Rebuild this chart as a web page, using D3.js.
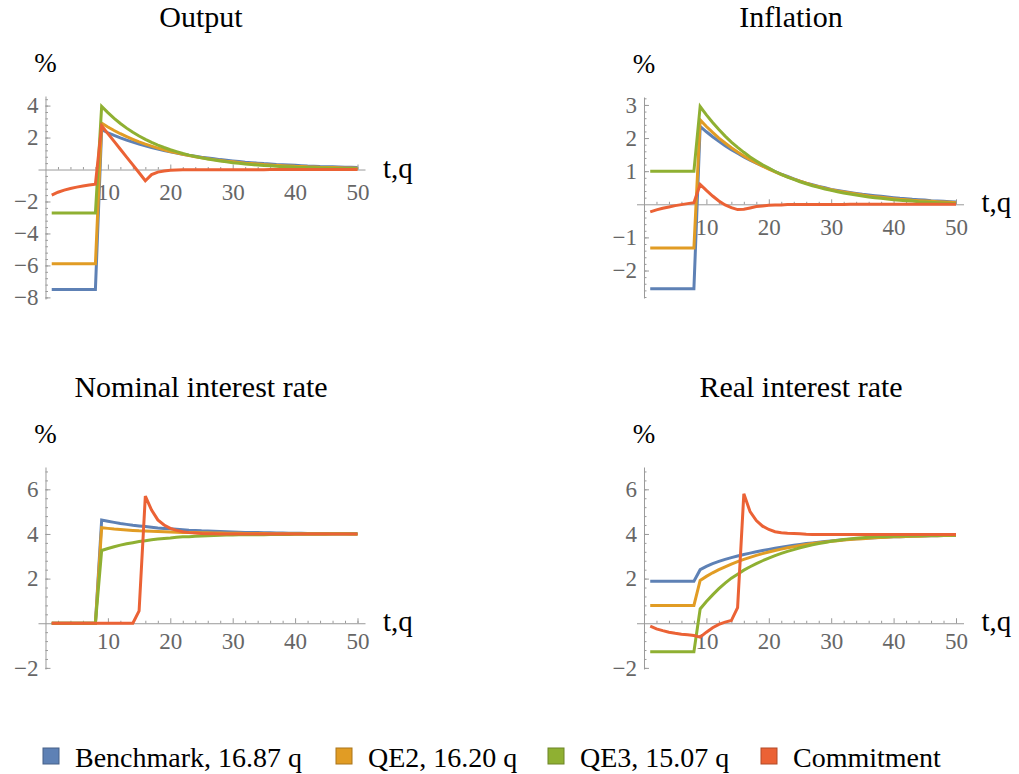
<!DOCTYPE html>
<html><head><meta charset="utf-8">
<script src="https://cdn.jsdelivr.net/npm/d3@7"></script>
<style>
body{margin:0;background:#fff}
text{font-family:"Liberation Serif","DejaVu Serif",serif}
</style>
</head><body>
<svg id="chart" width="1019" height="774"></svg>
<script>
// ---------------- DATA ----------------
const periods = [1,2,3,4,5,6,7,8,9,10,11,12,13,14,15,16,17,18,19,20,21,22,23,24,25,26,27,28,29,30,31,32,33,34,35,36,37,38,39,40,41,42,43,44,45,46,47,48,49,50];

const seriesNames = ["Benchmark, 16.87 q","QE2, 16.20 q","QE3, 15.07 q","Commitment"];
const panelTitles = ["Output","Inflation","Nominal interest rate","Real interest rate"];

// Output
const outputBenchmark = [-7.5,-7.5,-7.5,-7.5,-7.5,-7.5,-7.5,-7.5,2.5,2.3,2.13,1.98,1.84,1.71,1.59,1.48,1.38,1.28,1.19,1.11,1.03,0.96,0.89,0.83,0.77,0.72,0.67,0.62,0.58,0.54,0.5,0.46,0.43,0.4,0.37,0.35,0.32,0.3,0.28,0.26,0.24,0.22,0.21,0.19,0.18,0.17,0.16,0.15,0.14,0.13];
const outputQE2 = [-5.9,-5.9,-5.9,-5.9,-5.9,-5.9,-5.9,-5.9,2.9,2.66,2.44,2.24,2.06,1.89,1.73,1.59,1.46,1.34,1.23,1.13,1.04,0.95,0.87,0.8,0.74,0.68,0.62,0.57,0.52,0.48,0.44,0.4,0.37,0.34,0.31,0.29,0.26,0.24,0.22,0.2,0.19,0.17,0.16,0.14,0.13,0.12,0.11,0.1,0.09,0.08];
const outputQE3 = [-2.72,-2.72,-2.72,-2.72,-2.72,-2.72,-2.72,-2.72,3.95,3.56,3.2,2.88,2.59,2.33,2.1,1.89,1.7,1.53,1.38,1.24,1.12,1.0,0.9,0.81,0.73,0.66,0.59,0.53,0.48,0.43,0.39,0.35,0.31,0.28,0.25,0.23,0.2,0.18,0.17,0.15,0.13,0.12,0.11,0.1,0.09,0.08,0.07,0.06,0.06,0.05];
const outputCommitment = [-1.6,-1.42,-1.29,-1.19,-1.1,-1.03,-0.97,-0.92,2.74,2.25,1.76,1.27,0.78,0.29,-0.2,-0.7,-0.32,-0.16,-0.09,-0.05,-0.03,-0.02,-0.02,-0.01,-0.01,-0.01,-0.01,-0.01,-0.01,-0.01,-0.01,-0.01,-0.01,-0.01,-0.01,0,0,0,0,0,0,0,0,0,0,0,0,0,0,0];

// Inflation
const inflationBenchmark = [-2.55,-2.55,-2.55,-2.55,-2.55,-2.55,-2.55,-2.55,2.35,2.19,2.04,1.9,1.77,1.65,1.54,1.43,1.33,1.24,1.16,1.08,0.99,0.91,0.84,0.77,0.7,0.64,0.59,0.54,0.5,0.45,0.42,0.39,0.36,0.33,0.3,0.28,0.26,0.24,0.22,0.2,0.18,0.17,0.15,0.14,0.13,0.11,0.1,0.09,0.08,0.07];
const inflationQE2 = [-1.32,-1.32,-1.32,-1.32,-1.32,-1.32,-1.32,-1.32,2.55,2.35,2.17,2.0,1.85,1.71,1.58,1.46,1.35,1.25,1.15,1.06,0.98,0.9,0.83,0.76,0.7,0.64,0.58,0.53,0.48,0.44,0.4,0.37,0.34,0.31,0.28,0.25,0.23,0.21,0.19,0.17,0.15,0.14,0.12,0.11,0.1,0.09,0.08,0.07,0.06,0.05];
const inflationQE3 = [1.0,1.0,1.0,1.0,1.0,1.0,1.0,1.0,2.95,2.7,2.47,2.26,2.06,1.88,1.72,1.57,1.43,1.31,1.19,1.09,0.99,0.9,0.82,0.75,0.68,0.62,0.56,0.51,0.46,0.42,0.38,0.34,0.31,0.28,0.25,0.22,0.2,0.18,0.16,0.14,0.12,0.11,0.1,0.08,0.07,0.06,0.05,0.04,0.03,0.02];
const inflationCommitment = [-0.23,-0.17,-0.12,-0.08,-0.04,-0.01,0.02,0.05,0.6,0.42,0.25,0.1,-0.02,-0.1,-0.16,-0.15,-0.11,-0.07,-0.05,-0.03,-0.02,-0.02,-0.01,-0.01,-0.01,-0.01,-0.01,-0.01,-0.01,-0.01,-0.01,-0.01,0,0,0,0,0,0,0,0,0,0,0,0,0,0,0,0,0,0];

// Nominal interest rate
const nominalBenchmark = [0,0,0,0,0,0,0,0,4.62,4.57,4.52,4.47,4.43,4.39,4.36,4.33,4.3,4.27,4.25,4.23,4.21,4.19,4.17,4.16,4.14,4.13,4.12,4.11,4.1,4.09,4.08,4.07,4.07,4.06,4.05,4.05,4.04,4.04,4.03,4.03,4.03,4.02,4.02,4.02,4.02,4.01,4.01,4.01,4.01,4.01];
const nominalQE2 = [0,0,0,0,0,0,0,0,4.28,4.25,4.22,4.2,4.18,4.16,4.14,4.13,4.12,4.11,4.1,4.09,4.08,4.07,4.06,4.06,4.05,4.05,4.04,4.04,4.03,4.03,4.03,4.02,4.02,4.02,4.02,4.01,4.01,4.01,4.01,4.01,4.01,4.01,4.01,4.01,4.01,4.01,4.01,4.01,4.0,4.0];
const nominalQE3 = [0,0,0,0,0,0,0,0,3.26,3.35,3.43,3.5,3.56,3.61,3.66,3.7,3.74,3.77,3.8,3.82,3.85,3.87,3.88,3.9,3.91,3.92,3.93,3.94,3.95,3.95,3.96,3.96,3.97,3.97,3.97,3.98,3.98,3.98,3.98,3.99,3.99,3.99,3.99,3.99,3.99,4.0,4.0,4.0,4.0,4.0];
const nominalCommitment = [0,0,0,0,0,0,0,0,0,0,0,0,0,0,0.55,5.7,5.07,4.63,4.4,4.25,4.16,4.1,4.06,4.04,4.02,4.01,4.01,4.0,4.0,4.0,4.0,4.0,4.0,4.0,4.0,4.0,4.0,4.0,4.0,4.0,4.0,4.0,4.0,4.0,4.0,4.0,4.0,4.0,4.0,4.0];

// Real interest rate
const realBenchmark = [1.88,1.88,1.88,1.88,1.88,1.88,1.88,1.88,2.4,2.55,2.67,2.77,2.86,2.94,3.01,3.08,3.14,3.2,3.26,3.31,3.36,3.41,3.45,3.49,3.53,3.57,3.6,3.63,3.66,3.69,3.72,3.74,3.76,3.78,3.8,3.82,3.83,3.85,3.86,3.87,3.88,3.89,3.9,3.91,3.91,3.92,3.92,3.93,3.93,3.94];
const realQE2 = [0.8,0.8,0.8,0.8,0.8,0.8,0.8,0.8,1.92,2.1,2.26,2.4,2.53,2.65,2.76,2.86,2.95,3.04,3.12,3.19,3.26,3.32,3.38,3.43,3.48,3.53,3.57,3.61,3.64,3.67,3.7,3.73,3.75,3.77,3.79,3.81,3.83,3.84,3.85,3.87,3.88,3.89,3.9,3.9,3.91,3.92,3.92,3.93,3.93,3.94];
const realQE3 = [-1.28,-1.28,-1.28,-1.28,-1.28,-1.28,-1.28,-1.28,0.64,0.97,1.27,1.55,1.8,2.02,2.2,2.38,2.53,2.67,2.8,2.92,3.03,3.13,3.22,3.3,3.38,3.45,3.51,3.57,3.62,3.67,3.71,3.75,3.78,3.81,3.83,3.85,3.87,3.88,3.89,3.9,3.91,3.91,3.92,3.92,3.93,3.93,3.93,3.94,3.94,3.94];
const realCommitment = [-0.13,-0.25,-0.33,-0.4,-0.45,-0.49,-0.52,-0.55,-0.62,-0.4,-0.2,-0.05,0.05,0.12,0.7,5.8,5.0,4.6,4.35,4.2,4.1,4.05,4.03,4.02,4.01,3.99,3.98,3.98,3.98,3.98,3.98,3.98,3.98,3.98,3.98,3.98,3.98,3.98,3.98,3.98,3.98,3.98,3.98,3.98,3.98,3.98,3.98,3.98,3.98,3.98];

// Tick labels
const xTickValues = [10,20,30,40,50];
const outputTicks = [-8,-6,-4,-2,2,4];
const inflationTicks = [-2,-1,1,2,3];
const nominalTicks = [-2,2,4,6];
const realTicks = [-2,2,4,6];

// ---------------- STYLE / LAYOUT ----------------
const seriesColors = ["#5e81b5","#e19c24","#8fb032","#eb6235"];
const axisColor = "#9a9a9a";
const labelColor = "#666666";
const serif = '"Liberation Serif","DejaVu Serif",serif';

const panels = [
  {title: panelTitles[0], series: [outputBenchmark, outputQE2, outputQE3, outputCommitment], yTicks: outputTicks, minorStep: 0.4,
   yDomain: [-8.1, 4.6], yRange: [299, 96], xRange: [38, 365], titleX: 201, titleY: 27, xLabelPad: 14},
  {title: panelTitles[1], series: [inflationBenchmark, inflationQE2, inflationQE3, inflationCommitment], yTicks: inflationTicks, minorStep: 0.2,
   yDomain: [-2.83, 3.24], yRange: [298, 97], xRange: [636.5, 963.5], titleX: 791, titleY: 27, xLabelPad: 14},
  {title: panelTitles[2], series: [nominalBenchmark, nominalQE2, nominalQE3, nominalCommitment], yTicks: nominalTicks, minorStep: 0.4,
   yDomain: [-2.05, 7.0], yRange: [669, 467], xRange: [38, 365], titleX: 201, titleY: 397, xLabelPad: 9},
  {title: panelTitles[3], series: [realBenchmark, realQE2, realQE3, realCommitment], yTicks: realTicks, minorStep: 0.4,
   yDomain: [-2.05, 7.0], yRange: [669, 467], xRange: [636.5, 963.5], titleX: 801, titleY: 397, xLabelPad: 9}
];

const svg = d3.select("#chart");
const fmt = d => (d < 0 ? "\u2212" + Math.abs(d) : String(d));

panels.forEach(p => {
  const x = d3.scaleLinear().domain([-1.2, 51.2]).range(p.xRange);
  const y = d3.scaleLinear().domain(p.yDomain).range(p.yRange);
  const g = svg.append("g");

  // minor ticks
  const yMinor = [];
  for (let v = Math.ceil(p.yDomain[0] / p.minorStep) * p.minorStep; v <= p.yDomain[1]; v += p.minorStep) {
    const r = Math.round(v * 100) / 100;
    if (Math.abs(r) > 1e-6) yMinor.push(r);
  }
  const xMinor = [2,4,6,8,12,14,16,18,22,24,26,28,32,34,36,38,42,44,46,48,50];

  g.append("g").attr("transform", `translate(0,${y(0)})`)
    .call(d3.axisBottom(x).tickValues(xMinor).tickSizeInner(-2.5).tickSizeOuter(0).tickFormat(""))
    .call(a => a.select(".domain").remove())
    .call(a => a.selectAll("line").attr("stroke", axisColor));
  g.append("g").attr("transform", `translate(${x(0)},0)`)
    .call(d3.axisLeft(y).tickValues(yMinor).tickSizeInner(-2.5).tickSizeOuter(0).tickFormat(""))
    .call(a => a.select(".domain").remove())
    .call(a => a.selectAll("line").attr("stroke", axisColor));

  // major x axis
  g.append("g").attr("transform", `translate(0,${y(0)})`)
    .call(d3.axisBottom(x).tickValues(xTickValues).tickSizeInner(-5).tickSizeOuter(0).tickPadding(p.xLabelPad).tickFormat(fmt))
    .attr("font-family", serif)
    .call(a => a.select(".domain").attr("stroke", axisColor).attr("stroke-width", 1))
    .call(a => a.selectAll("line").attr("stroke", axisColor))
    .call(a => a.selectAll("text").attr("fill", labelColor).style("font-size", "23px").style("font-family", serif));

  // major y axis
  g.append("g").attr("transform", `translate(${x(0)},0)`)
    .call(d3.axisLeft(y).tickValues(p.yTicks).tickSizeInner(-5).tickSizeOuter(0).tickPadding(7).tickFormat(fmt))
    .attr("font-family", serif)
    .call(a => a.select(".domain").attr("stroke", axisColor).attr("stroke-width", 1))
    .call(a => a.selectAll("line").attr("stroke", axisColor))
    .call(a => a.selectAll("text").attr("fill", labelColor).style("font-size", "23px").style("font-family", serif));

  // lines
  const line = d3.line().x((d, i) => x(periods[i])).y(d => y(d));
  p.series.forEach((s, k) => {
    g.append("path").datum(s).attr("d", line)
      .attr("fill", "none").attr("stroke", seriesColors[k])
      .attr("stroke-width", 3).attr("stroke-linejoin", "miter").attr("stroke-miterlimit", 3);
  });

  // labels
  g.append("text").attr("x", p.titleX).attr("y", p.titleY).attr("text-anchor", "middle")
    .style("font-size", "30px").style("font-family", serif).attr("fill", "#000").text(p.title);
  g.append("text").attr("x", x(0)).attr("y", p.yRange[1] - 24).attr("text-anchor", "middle")
    .style("font-size", "27px").style("font-family", serif).attr("fill", "#000").text("%");
  g.append("text").attr("x", p.xRange[1] + 18).attr("y", y(0) + 8)
    .style("font-size", "29px").style("font-family", serif).attr("fill", "#000").text("t,q");
});

// legend
const legendX = [43, 336, 548, 761];
const lg = svg.append("g");
seriesNames.forEach((name, k) => {
  lg.append("rect").attr("x", legendX[k]).attr("y", 748).attr("width", 16).attr("height", 16)
    .attr("fill", seriesColors[k]).attr("stroke", d3.color(seriesColors[k]).darker(0.8)).attr("stroke-width", 1);
  lg.append("text").attr("x", legendX[k] + 32).attr("y", 767)
    .style("font-size", "28px").style("font-family", serif).attr("fill", "#000").text(name);
});
</script>
</body></html>
